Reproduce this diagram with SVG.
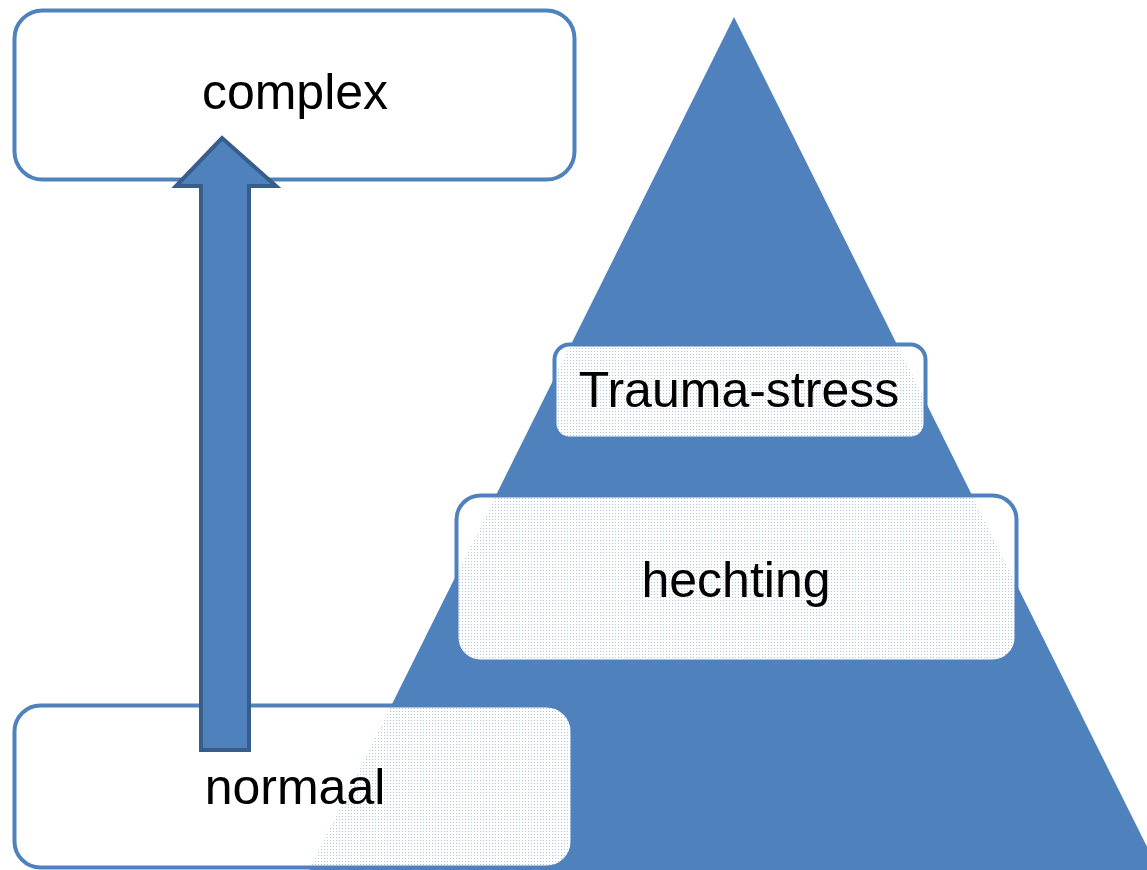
<svg xmlns="http://www.w3.org/2000/svg" width="1147" height="870" viewBox="0 0 1147 870">
  <defs>
    <pattern id="dots" width="3" height="3" patternUnits="userSpaceOnUse">
      <rect x="1" y="0" width="2" height="1" fill="#fff"/>
      <rect x="0" y="1" width="3" height="2" fill="#fff"/>
      <rect x="0" y="0" width="1" height="1" fill="#fff" fill-opacity="0.55"/>
    </pattern>
  </defs>
  <style>
    .box { fill: url(#dots); stroke: #4F81BD; stroke-width: 4; }
    .lbl { font-family: "Liberation Sans", Arial, sans-serif; font-size: 50px; fill: #000; text-anchor: middle; }
  </style>
  <rect width="1147" height="870" fill="#fff"/>
  <g id="pyramid">
    <polygon points="734,17 1170,893 298,893" fill="#4F81BD"/>
  </g>
  <g id="complex">
    <rect x="14.5" y="10.5" width="560" height="169" rx="28" fill="#fff" stroke="#4F81BD" stroke-width="4"/>
    <text class="lbl" x="295" y="109">complex</text>
  </g>
  <g id="normaal">
    <rect class="box" x="14.5" y="705.5" width="558" height="162" rx="26"/>
    <text class="lbl" x="295" y="804">normaal</text>
  </g>
  <g id="trauma">
    <rect class="box" x="554.5" y="344.5" width="371" height="94" rx="15"/>
    <text class="lbl" x="739" y="407">Trauma-stress</text>
  </g>
  <g id="hechting">
    <rect class="box" x="456.5" y="495.5" width="560" height="166" rx="24"/>
    <text class="lbl" x="736" y="597">hechting</text>
  </g>
  <g id="connectors">
    <polygon points="222,138 276,186 249,186 249,750 201,750 201,186 176,186" fill="#4F81BD" stroke="#385D8A" stroke-width="4" stroke-linejoin="miter"/>
  </g>
</svg>
